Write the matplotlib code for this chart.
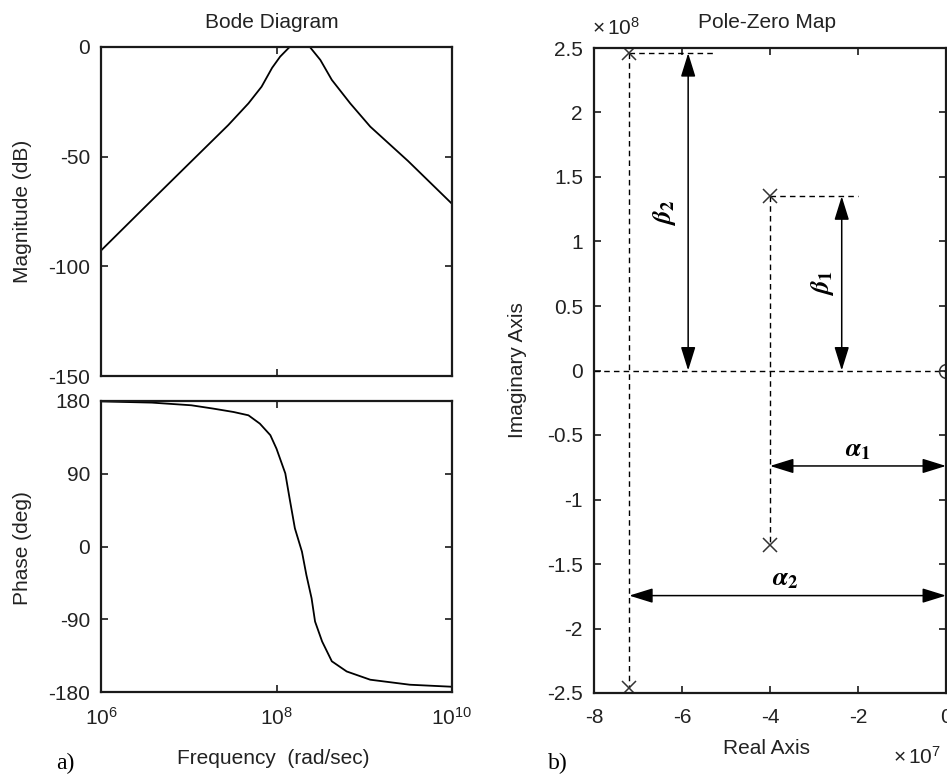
import matplotlib
matplotlib.use('Agg')
import matplotlib.pyplot as plt
from matplotlib.ticker import FixedLocator, FuncFormatter, NullLocator

plt.rcParams['font.family'] = ['Liberation Sans', 'DejaVu Sans']
plt.rcParams['axes.unicode_minus'] = False
plt.rcParams['mathtext.fontset'] = 'custom'
plt.rcParams['mathtext.rm'] = 'Liberation Sans'
plt.rcParams['mathtext.it'] = 'Liberation Sans:italic'
plt.rcParams['mathtext.bf'] = 'Liberation Sans:bold'

# ---------------- data ----------------
freq_mag = [1e6, 3.16e6, 1e7, 2.82e7, 4.79e7, 6.76e7, 8.91e7, 1.10e8, 1.41e8,
            1.82e8, 2.40e8, 3.16e8, 4.27e8, 6.92e8, 1.17e9, 3.16e9, 1e10]
mag_db = [-92.8, -73.0, -53.3, -35.6, -25.7, -18.1, -9.5, -4.4, 0.0,
          0.0, 0.0, -5.9, -15.0, -25.7, -36.3, -52.0, -71.5]

freq_ph = [1e6, 3.8e6, 1.07e7, 1.9e7, 3.24e7, 4.79e7, 6.46e7, 8.51e7, 1.0e8,
           1.26e8, 1.41e8, 1.62e8, 1.95e8, 2.19e8, 2.51e8, 2.75e8, 3.31e8,
           4.27e8, 6.31e8, 1.17e9, 3.31e9, 1e10]
phase_deg = [179.5, 178.0, 174.7, 170.6, 166.4, 162.3, 152.0, 137.7, 121.0,
             90.4, 59.5, 22.5, -6.4, -35.2, -64.0, -92.8, -117.5,
             -142.0, -154.6, -164.8, -171.0, -173.5]

pole_re = [-7.2e7, -7.2e7, -4.0e7, -4.0e7]
pole_im = [2.46e8, -2.46e8, 1.35e8, -1.35e8]
zero_re = [0.0]
zero_im = [0.0]

mag_ticks = [0, -50, -100, -150]
phase_ticks = [180, 90, 0, -90, -180]
freq_ticks = [1e6, 1e8, 1e10]
re_ticks = [-8e7, -6e7, -4e7, -2e7, 0]
im_ticks = [2.5e8, 2e8, 1.5e8, 1e8, 0.5e8, 0, -0.5e8, -1e8, -1.5e8, -2e8, -2.5e8]

# ---------------- figure ----------------
W, H = 947, 774
fig = plt.figure(figsize=(W / 100, H / 100), dpi=100)


def fx(x):
    return x / W


def fy(y):
    return 1 - y / H


FS = 15
LC = '#1a1a1a'


def style(ax):
    for s in ax.spines.values():
        s.set_linewidth(1.6)
        s.set_color(LC)
    ax.tick_params(direction='in', top=True, right=True, length=5, width=1.2,
                   labelsize=FS, color=LC, labelcolor='#222222')
    ax.tick_params(axis='y', pad=8)
    ax.tick_params(axis='x', pad=11)


ax_mag = fig.add_axes([fx(101), fy(376), fx(452) - fx(101), fy(47) - fy(376)])
ax_ph = fig.add_axes([fx(101), fy(692), fx(452) - fx(101), fy(401) - fy(692)])
ax_pz = fig.add_axes([fx(594), fy(693), fx(946) - fx(594), fy(48) - fy(693)])

# magnitude
ax_mag.semilogx(freq_mag, mag_db, color='black', lw=1.3)
ax_mag.set_xlim(1e6, 1e10)
ax_mag.set_ylim(-150, 0)
ax_mag.xaxis.set_major_locator(FixedLocator(freq_ticks))
ax_mag.xaxis.set_minor_locator(NullLocator())
ax_mag.set_yticks(mag_ticks)
style(ax_mag)
ax_mag.tick_params(axis='x', labelbottom=False)

# phase
ax_ph.semilogx(freq_ph, phase_deg, color='black', lw=1.3)
ax_ph.set_xlim(1e6, 1e10)
ax_ph.set_ylim(-180, 180)
ax_ph.xaxis.set_major_locator(FixedLocator(freq_ticks))
ax_ph.xaxis.set_minor_locator(NullLocator())
ax_ph.set_yticks(phase_ticks)
style(ax_ph)

# pole-zero
ax_pz.set_xlim(-8e7, 0)
ax_pz.set_ylim(-2.5e8, 2.5e8)
ax_pz.xaxis.set_major_locator(FixedLocator(re_ticks))
ax_pz.yaxis.set_major_locator(FixedLocator(im_ticks))
ax_pz.xaxis.set_major_formatter(FuncFormatter(lambda v, p: '%g' % (v / 1e7)))
ax_pz.yaxis.set_major_formatter(FuncFormatter(lambda v, p: '%g' % (v / 1e8)))
style(ax_pz)

dash = dict(color='black', lw=1.0, ls=(0, (4, 3)))
ax_pz.axhline(0, **dash)
# guide lines from poles
ax_pz.plot([pole_re[0], pole_re[1]], [pole_im[0], pole_im[1]], **dash)
ax_pz.plot([pole_re[0], -5.3e7], [pole_im[0], pole_im[0]], **dash)
ax_pz.plot([pole_re[2], pole_re[3]], [pole_im[2], pole_im[3]], **dash)
ax_pz.plot([pole_re[2], -2.0e7], [pole_im[2], pole_im[2]], **dash)

ax_pz.plot(pole_re, pole_im, ls='none', marker='x', ms=10, mew=1.1, color='#333333')
ax_pz.plot(zero_re, zero_im, ls='none', marker='o', ms=10, mew=1.1,
           mfc='none', mec='#333333')

ap = dict(arrowstyle='<|-|>,head_length=1.45,head_width=0.45', color='black',
          lw=1.1, shrinkA=0, shrinkB=0, mutation_scale=10)
ax_pz.annotate('', xy=(-5.86e7, pole_im[0]), xytext=(-5.86e7, 0), arrowprops=ap)
ax_pz.annotate('', xy=(-2.37e7, pole_im[2]), xytext=(-2.37e7, 0), arrowprops=ap)
ax_pz.annotate('', xy=(0, -0.74e8), xytext=(pole_re[2], -0.74e8), arrowprops=ap)
ax_pz.annotate('', xy=(0, -1.745e8), xytext=(pole_re[0], -1.745e8), arrowprops=ap)

gk = dict(fontsize=19, math_fontfamily='stix', ha='center', va='center')
ax_pz.text(-6.4e7, 1.22e8, r'$\boldsymbol{\beta}_\mathbf{2}$', rotation=90, **gk)
ax_pz.text(-2.8e7, 0.68e8, r'$\boldsymbol{\beta}_\mathbf{1}$', rotation=90, **gk)
ax_pz.text(-2.0e7, -0.62e8, r'$\boldsymbol{\alpha}_\mathbf{1}$', **gk)
ax_pz.text(-3.65e7, -1.62e8, r'$\boldsymbol{\alpha}_\mathbf{2}$', **gk)

# ---------------- text ----------------
tc = '#222222'
fig.text(fx(272), fy(22), 'Bode Diagram', ha='center', va='center', fontsize=FS, color=tc)
fig.text(fx(23), fy(211), 'Magnitude (dB)', ha='center', va='center', rotation=90, fontsize=FS, color=tc)
fig.text(fx(23), fy(548), 'Phase (deg)', ha='center', va='center', rotation=90, fontsize=FS, color=tc)
fig.text(fx(273), fy(758), 'Frequency  (rad/sec)', ha='center', va='center', fontsize=FS, color=tc)
fig.text(fx(65), fy(763), 'a)', ha='center', va='center', fontsize=17, family='Liberation Serif')

fig.text(fx(767), fy(22), 'Pole-Zero Map', ha='center', va='center', fontsize=FS, color=tc)
fig.text(fx(517), fy(370), 'Imaginary Axis', ha='center', va='center', rotation=90, fontsize=FS, color=tc)
fig.text(fx(766), fy(748), 'Real Axis', ha='center', va='center', fontsize=FS, color=tc)
fig.text(fx(558), fy(763), 'b)', ha='center', va='center', fontsize=17, family='Liberation Serif')
fig.text(fx(592), fy(28), r'$\mathregular{\times\,10^{8}}$', ha='left', va='center', fontsize=FS, color=tc)
fig.text(fx(893), fy(757), r'$\mathregular{\times\,10^{7}}$', ha='left', va='center', fontsize=FS, color=tc)

fig.savefig('out.png', dpi=100)
